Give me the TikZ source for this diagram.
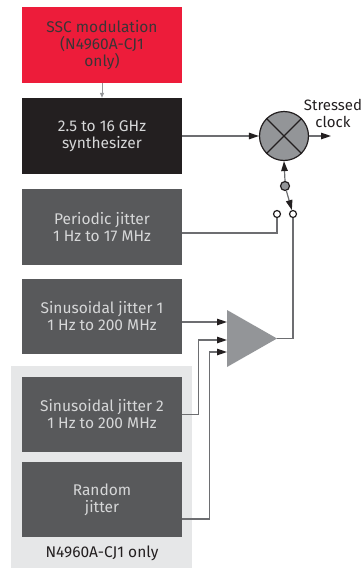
\documentclass[tikz,border=0pt]{standalone}
\usepackage{fontspec}
\setmainfont{Fira Sans}
\usetikzlibrary{arrows.meta}
\definecolor{kred}{HTML}{ED1C3A}
\definecolor{kblack}{HTML}{231F20}
\definecolor{kdark}{HTML}{58595B}
\definecolor{kmid}{HTML}{939598}
\definecolor{klight}{HTML}{E6E7E8}
\definecolor{ktext}{HTML}{D6D7D8}
\definecolor{kline}{HTML}{6D6E71}
\tikzset{
  lbltext/.style={font=\fontsize{15.5}{17}\selectfont},
  blk/.style={rectangle, minimum width=160pt, minimum height=76pt, inner sep=0pt, align=center,
    lbltext, text=ktext, fill=kdark},
  conn/.style={draw=kline, line width=1.2pt},
  arr/.style={conn, -{Triangle[length=10pt,width=6.5pt]}, arrows={[color=kblack]}},
  contact/.style={circle, draw=kblack, fill=white, line width=1.2pt, inner sep=0pt, minimum size=7pt},
}
\begin{document}
\begin{tikzpicture}[x=1pt,y=-1pt]
\useasboundingbox (0,0) rectangle (362,568);
\fill[klight] (11,366) rectangle (192,568);
\node[blk, fill=kred, text=kblack!90] (ssc) at (102,45) {SSC modulation\\(N4960A-CJ1\\only)};
\node[blk, fill=kblack] (synth) at (102,136) {2.5 to 16 GHz\\synthesizer};
\node[blk] (pj) at (102,227) {Periodic jitter\\1 Hz to 17 MHz};
\node[blk, minimum height=75pt] (sj1) at (102,316.5) {Sinusoidal jitter 1\\1 Hz to 200 MHz};
\node[blk, minimum height=75pt] (sj2) at (102,414.5) {Sinusoidal jitter 2\\1 Hz to 200 MHz};
\node[blk, minimum height=75pt] (rj) at (102,499.5) {Random\\jitter};
\node[lbltext, text=kblack] (opt) at (102,553) {N4960A-CJ1 only};

% mixer
\node[circle, fill=kmid, draw=kblack, line width=1.2pt, minimum size=49pt, inner sep=0pt] (mix) at (284,136) {};
\draw[kblack, line width=1.2pt] (mix.north west) -- (mix.south east) (mix.north east) -- (mix.south west);
\coordinate (out) at (331,136);
\node[font=\fontsize{15}{17}\selectfont, text=kblack, align=center] (lbl) at (333,113) {Stressed\\clock};

% switch
\node[circle, fill=kmid, draw=kblack, line width=1.2pt, inner sep=0pt, minimum size=9pt] (piv) at (285,186) {};
\node[contact] (cl) at (277,214) {};
\node[contact] (cr) at (293,214) {};

% amplifier
\fill[kmid] (227,310) -- (277,338.5) -- (227,367) -- cycle;
\coordinate (amptip) at (277,338.5);
\coordinate (a1) at (227,322);
\coordinate (a2) at (227,340);
\coordinate (a3) at (227,352);

% connectors
\draw[draw=kmid, line width=1pt, -{Triangle[length=5pt,width=4pt]}] (ssc.south) -- (synth.north);
\draw[arr] (synth.east) -- (mix.west);
\draw[arr] (mix.east) -- (out);
\draw[arr] (piv.north) -- (mix.south);
\draw[arr] (piv) -- (cr);
\draw[conn] (cl.south) |- ([yshift=-6pt]pj.east);
\draw[conn] (cr.south) |- (amptip);
\draw[arr] ([yshift=-5.5pt]sj1.east) -- (a1);
\draw[arr] (sj2.east) -- ++(16,0) |- (a2);
\draw[arr] ([yshift=-19.5pt]rj.east) -- ++(27,0) |- (a3);
\end{tikzpicture}
\end{document}
